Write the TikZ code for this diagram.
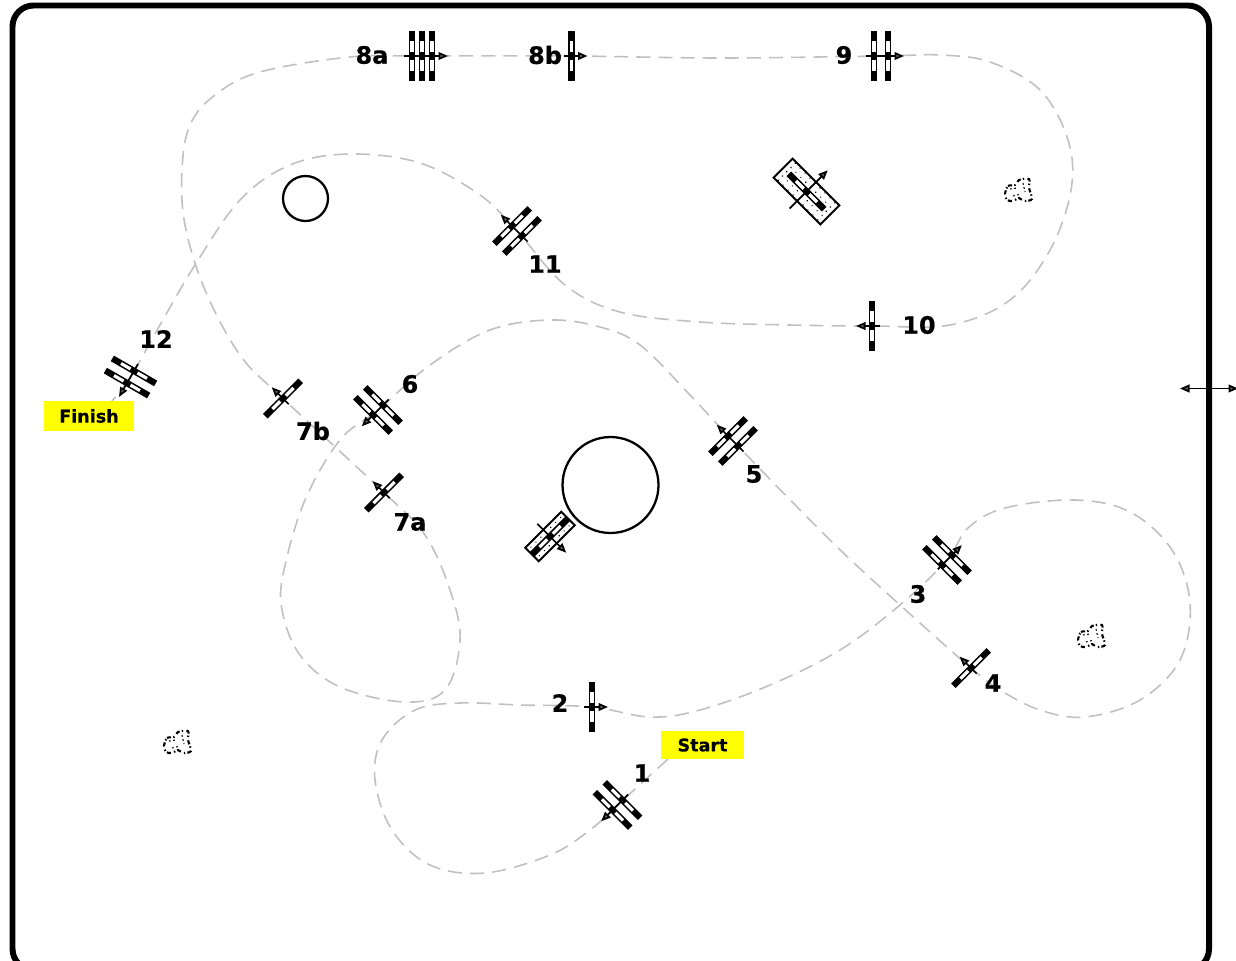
\documentclass[tikz,border=0pt]{standalone}
\usepackage{fontspec}
\setmainfont{DejaVu Sans}
\usetikzlibrary{arrows.meta,backgrounds}
\definecolor{trackgray}{HTML}{C0C0C0}
\definecolor{labyellow}{HTML}{FFFF00}
\tikzset{
  gatebar/.pic={
    \fill[black] (-3.2,-25) rectangle (3.2,25);
    \fill[white] (-1.6,4) rectangle (1.6,15);
    \fill[white] (-1.6,-15) rectangle (1.6,-4);
  },
  shrub/.pic={
    \fill[white] (0,0) circle (12);
    \draw[black, line width=1.2pt, dash pattern=on 2.4pt off 1.2pt on 0.8pt off 1.9pt]
      plot[smooth cycle] coordinates {(-13,3) (-10,-5) (-3,-6) (1,-11) (11,-12) (11,-3) (14,8) (6,10) (1,7) (-5,10) (-11,9)};
    \draw[black, line width=0.6pt, dash pattern=on 1pt off 1.4pt] (-8,-2) -- (-1,-3) (5,-8) -- (7,1) (-5,5) -- (3,3);
  },
  arr/.style={-{Triangle[length=5.4pt,width=4.4pt,fill=black!60]}, line width=1pt, black},
  bothArr/.style={{Triangle[length=5.4pt,width=4.4pt,fill=black!60]}-{Triangle[length=5.4pt,width=4.4pt,fill=black!60]}, line width=1pt, black},
  track/.style={trackgray, line width=0.9pt, dash pattern=on 8pt off 4.6pt},
  numlab/.style={font=\fontsize{13.6}{14}\selectfont\bfseries\addfontfeature{FakeBold=0.6}, inner sep=0pt},
  flag/.style={fill=labyellow, font=\fontsize{10}{12}\selectfont\bfseries\addfontfeature{FakeBold=0.3}, inner sep=0pt},
  pylon/.style={draw=black, line width=1.3pt, circle, inner sep=0pt},
}
% gate: name, position, heading, half spread of the bars, bar offsets
\newcommand{\gate}[5]{
  \coordinate (#1) at (#2);
  \begin{scope}[shift={(#2)},rotate=#3]
    \foreach \d in {#5} \pic[transform shape] at (\d,0) {gatebar};
    \draw[arr] (-#4-8,0) -- (#4+16,0);
  \end{scope}
}
% dotted box with one bar: name, position, heading, half length, half width, arrow tail, arrow tip
\newcommand{\dotbox}[7]{
  \coordinate (#1) at (#2);
  \begin{scope}[shift={(#2)},rotate=#3]
    \draw[black, line width=1.1pt] (-#5,-#4) rectangle (#5,#4);
    \foreach \u in {-28,-21,...,28}{
      \foreach \v in {-12,-6,...,12}{
        \ifdim\u pt<#4pt \ifdim\u pt>-#4pt \ifdim\v pt<#5pt \ifdim\v pt>-#5pt
          \fill[black] (\v,\u) circle (0.8);
        \fi\fi\fi\fi
      }
    }
    \pic[transform shape] at (0,0) {gatebar};
    \draw[arr] (-#6,0) -- (#7,0);
  \end{scope}
}
\begin{document}
\begin{tikzpicture}[x=0.02cm,y=-0.02cm]
\clip (0,0) rectangle (1236,960);

% Frame
\draw[black, line width=3.4pt, rounded corners=12pt] (12.5,5.5) rectangle (1209,970);

% Round obstacles
\node[pylon, minimum size=0.9cm] (smallring) at (305.5,198.5) {};
\node[pylon, minimum size=1.92cm] (bigring) at (610.5,485) {};

% Gates
\gate{g1}{617.5,805}{225}{7}{-7,7}
\gate{g2}{592,707}{0}{0}{0}
\gate{g3}{947,560}{45}{5}{-7,7}
\gate{g4}{971,668}{135}{0}{0}
\gate{g5}{733,441}{135}{7}{-7,7}
\gate{g6}{378,410}{225}{7}{-7,7}
\gate{g7a}{384,492.5}{135}{0}{0}
\gate{g7b}{283,398.5}{135}{0}{0}
\gate{g8a}{422,56}{0}{10}{-10,0,10}
\gate{g8b}{571.5,56}{0}{0}{0}
\gate{g9}{881,56}{0}{7}{-7,7}
\gate{g10}{872,326}{180}{0}{0}
\gate{g11}{517,231}{135}{7}{-7,7}
\gate{g12}{130.5,377}{240}{7}{-7,7}

% Dotted boxes
\dotbox{boxa}{806.5,191.5}{45}{33}{13.5}{24}{30}
\dotbox{boxb}{550,536.5}{315}{25.5}{9.5}{18}{23}

% Shrubs
\pic at (1018,191) {shrub};
\pic at (1091,637) {shrub};
\pic at (177,743) {shrub};

% Wind arrow
\coordinate (windl) at (1180,388.5);
\coordinate (windr) at (1238,388.5);
\draw[bothArr] (windl) -- (windr);

% Start and finish
\node[flag, minimum width=1.66cm, minimum height=0.56cm] (startlab) at (702.5,745) {Start};
\node[flag, minimum width=1.8cm, minimum height=0.6cm] (finishlab) at (89,416) {Finish};
\coordinate (trackstart) at (668,759);
\coordinate (trackend) at (112,401);

% Track
\begin{scope}[on background layer]
\draw[track] plot[smooth,tension=0.6] coordinates {
  (trackstart) (g1) (590,830) (550,855) (485,873) (430,865) (392,830) (375,780) (382,740) (415,710) (460,703)
  (520,705) (g2) (650,717) (700,710) (770,685) (840,650) (900,605) (g3) (968,528) (1005,508) (1075,500)
  (1130,512) (1172,550) (1190,603) (1180,660) (1140,700) (1085,717) (1040,710) (1000,690) (g4) (900,605) (830,540)
  (g5) (690,395) (640,345) (600,327) (550,320) (490,330) (430,365) (g6) (340,440) (305,500) (284,570)
  (282,610) (300,655) (340,687) (405,702) (445,690) (460,640) (450,590) (425,535)
  (g7a) (g7b) (240,355) (205,290) (185,225) (182,170) (190,125) (215,95) (260,72) (350,57) (g8a) (g8b) (720,58) (g9)
  (940,55) (990,62) (1040,90) (1068,140) (1071,190) (1050,250) (1010,300) (950,325)
  (g10) (790,325) (700,322) (620,312) (565,285) (g11) (480,195) (420,163) (350,154) (290,165) (240,200) (195,265)
  (160,325) (g12) (trackend)
};
\end{scope}

% Labels
\node[numlab] (lab1) at (642,773) {1};
\node[numlab] (lab2) at (560,703) {2};
\node[numlab] (lab3) at (918,594) {3};
\node[numlab] (lab4) at (993,683) {4};
\node[numlab] (lab5) at (754,474) {5};
\node[numlab] (lab6) at (410,384) {6};
\node[numlab] (lab7a) at (410,522) {7a};
\node[numlab] (lab7b) at (313,431) {7b};
\node[numlab] (lab8a) at (372,55) {8a};
\node[numlab] (lab8b) at (545,55) {8b};
\node[numlab] (lab9) at (844,55) {9};
\node[numlab] (lab10) at (919,325) {10};
\node[numlab] (lab11) at (545,264) {11};
\node[numlab] (lab12) at (156,339) {12};
\end{tikzpicture}
\end{document}
